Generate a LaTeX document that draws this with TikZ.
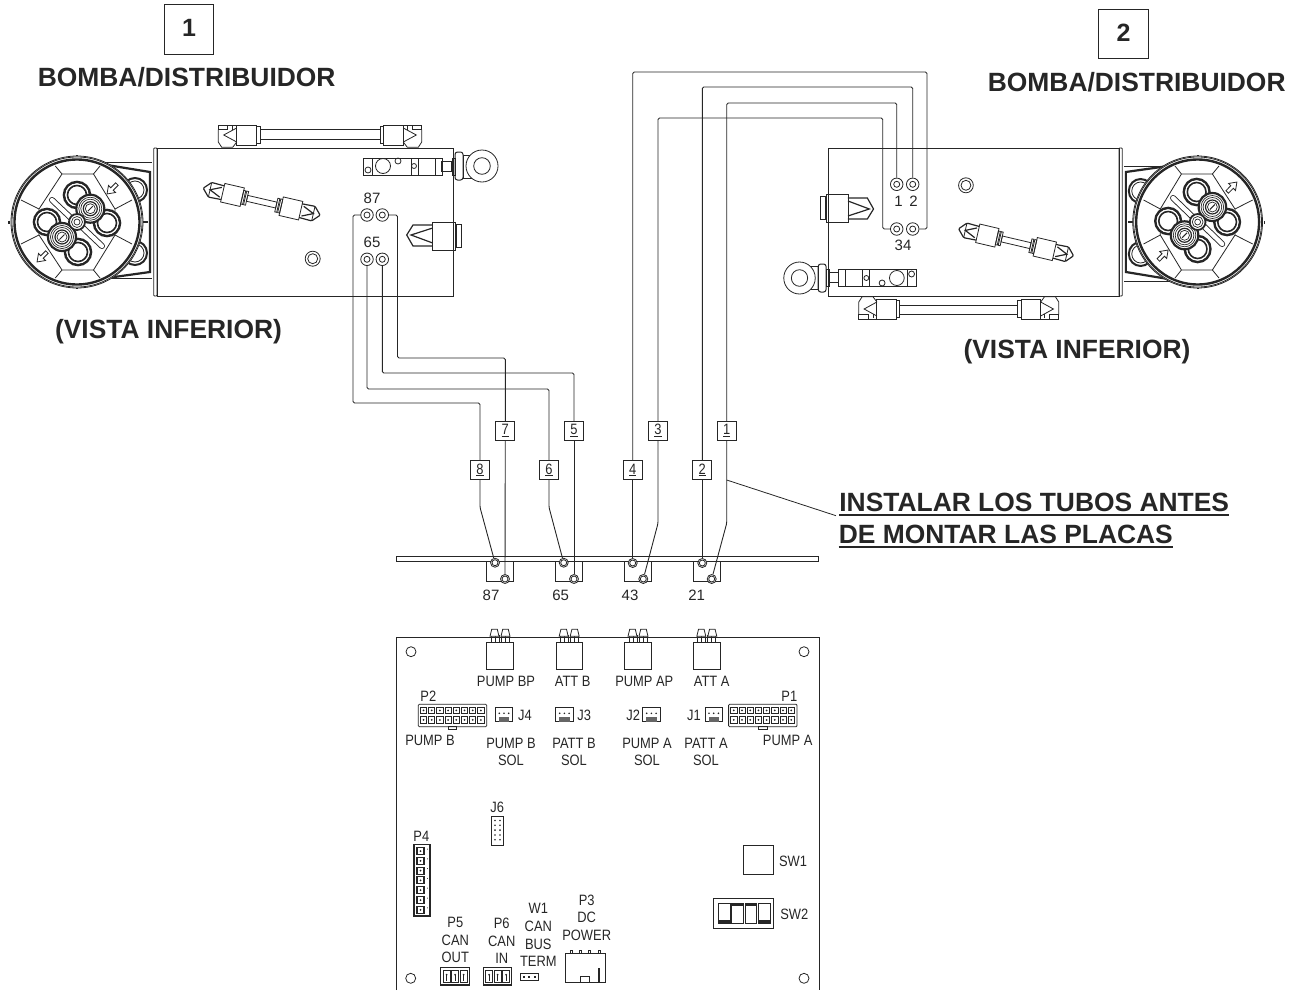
\documentclass[tikz,border=0pt]{standalone}
\usepackage{fontspec}
\setmainfont{Liberation Sans}
\newfontfamily\narrowfont[FakeStretch=.86]{Liberation Sans}
\definecolor{inkgray}{rgb}{0.15, 0.15, 0.15}
\usetikzlibrary{positioning}
\newcommand{\tagdigit}[1]{\vtop{\hbox{#1}\kern.8pt\hrule height 1.3pt}}

\begin{document}
\begin{tikzpicture}[%
    x = 1pt,
    y = -1pt,
    line width = .8pt,
    color = inkgray,
    tube/.style = {line width = .9pt, rounded corners = 1.5pt},
    port/.style = {
      circle,
      draw,
      fill = white,
      inner sep = 0pt,
      minimum size = 12.5pt,
      path picture = {\draw (path picture bounding box.center) circle (3);}},
    boardport/.style = {port, minimum size = 9pt},
    tubetag/.style = {
      draw,
      fill = white,
      inner sep = 0pt,
      minimum size = 19pt,
      font = \narrowfont\fontsize{15}{15}\selectfont},
    title/.style = {font = \bfseries\fontsize{26.4}{30}\selectfont, inner sep = 0pt},
    numbox/.style = {
      draw,
      inner sep = 0pt,
      minimum size = 49.5pt,
      font = \bfseries\fontsize{25}{25}\selectfont},
    portnum/.style = {font = \fontsize{15}{15}\selectfont, inner sep = 0pt},
    boardtext/.style = {
      font = \narrowfont\fontsize{15}{17.7}\selectfont,
      align = center,
      inner sep = 0pt},
    note/.style = {
      font = \bfseries\fontsize{26.4}{30}\selectfont,
      anchor = base west,
      inner sep = 0pt},
    noteline/.style = {line width = 1.8pt},
    % one end of the tube that runs outside the body
    tubeend/.pic = {
      \draw (0,-10) rectangle (20,10);
      \draw (20,-8.3) rectangle (23.3,8.3);
      \draw (-18.4,-10) rectangle (-9,-5.5);
      \draw (-18.4,-5.5) -- (-18.4,7) -- (-15,12.3) -- (-4,12.3) -- (0,7);
      \draw (-9,-10) -- (0,-10);
      \draw (0,-7) -- (-13,0) -- (0,7);
      \draw (-4,-9) -- (-4,-5);
    },
    % one end of the short angled tube on the body
    tipend/.pic = {
      \draw (0,-9.5) rectangle (20,9.5);
      \draw (20,-7) rectangle (22,7);
      \draw (23,-7) rectangle (25,7);
      \draw[line width = 1.2pt, rounded corners = 1pt] (0,-7) -- (-13,-7.5) -- (-20,0) -- (-13,7.5) -- (0,7);
      \draw[line width = 1.2pt] (-2,-5) -- (-13,0) -- (-2,5);
      \draw (-13,-7) -- (-13,7);
    },
    flowarrow/.pic = {
      \draw[fill = white] (-7,-1.8) -- (0,-1.8) -- (0,-5) -- (7,0) -- (0,5) -- (0,1.8) -- (-7,1.8) -- cycle;
    },
    % the pump, its origin at the centre of the body
    pumpunit/.pic = {
      \draw[rounded corners = .8] (-151.3,-74) rectangle (-148,74);
      \draw (-148,-74) rectangle (148,74);
      % tube on the long side
      \draw (-45,-92.7) rectangle (75,-83);
      \pic[transform shape] at (-68.3,-87) {tubeend};
      \pic[transform shape, xscale = -1] at (98.3,-87) {tubeend};
      % valve and ring
      \draw (58,-64) rectangle (130,-47);
      \draw (67,-64) -- (67,-47) (106,-64) -- (106,-47) (113,-64) -- (113,-47);
      \draw (130,-64) rectangle (137,-47);
      \draw[line width = 1.3pt] (137,-60.5) rectangle (147,-50.5);
      \draw (147,-64) rectangle (150,-47);
      \draw (78,-56) circle (7.5);
      \draw (93,-61) circle (3);
      \draw (63,-52) circle (3);
      \draw (109,-56) circle (2.5);
      \draw (158,-67) rectangle (166,-44);
      \draw[rounded corners = 2.5, line width = 1pt] (150,-70) rectangle (158,-42);
      \draw[fill = white] (177,-56) circle (16);
      \draw (177,-56) circle (8.3);
      % side fitting
      \draw (127.7,0) rectangle (150,28);
      \draw (151,2.5) rectangle (156,25.5);
      \draw[line width = 1.2pt] (127.7,3) -- (108,3) -- (101.7,13) -- (108,24) -- (127.7,24);
      \draw[line width = 1.2pt] (127.7,6) -- (106,13) -- (127.7,21);
      % short tube
      \begin{scope}[shift = {(-43.3,-20.3)}, rotate = -13]
        \draw (-15,-3) rectangle (15,3);
        \pic[transform shape] at (-40,0) {tipend};
        \pic[transform shape, xscale = -1] at (40,0) {tipend};
      \end{scope}
      \draw (7.7,36.7) circle (7.5);
      \draw (7.7,36.7) circle (5);
      % head
      \begin{scope}[shift = {(-228,0)}]
        \draw (26,-59.3) -- (75,-59.3) (26,56) -- (75,56);
        \foreach \ly in {-32,31} {
          \draw[line width = 2pt, fill = white] (58,\ly) circle (12);
          \draw (58,\ly) circle (9);
        }
        \draw[line width = 2.2pt] (30,-57) -- (73,-50) -- (73,50) -- (30,56);
        \draw[line width = 2.2pt] (65,0) -- (71,0);
        \draw[fill = white] (0,0) circle (66);
        \draw (0,0) circle (65);
        \draw[line width = 2.4pt] (0,0) circle (62.5);
        \draw[line width = 1.5pt] (-68,-1.5) -- (-68,1.5) (-1,-66.5) -- (1,-66.5) (-1,66.5) -- (1,66.5);
        \draw (-15,-48) -- (16.5,-48) -- (38,-13) -- (38,13) -- (16.5,48) -- (-15,48) -- (-38,13) -- (-38,-13) -- cycle;
        \draw (-15,-48) -- (-21.7,-56) (16.5,-48) -- (23,-56)
          (38,-13) -- (55,-22) (38,13) -- (55,22)
          (16.5,48) -- (23,56) (-15,48) -- (-21.7,56)
          (-38,13) -- (-56,22) (-38,-13) -- (-56,-22);
        \pic[transform shape, rotate = 225] at (35,-33) {flowarrow};
        \pic[transform shape, rotate = 225] at (-35,35) {flowarrow};
        % lobes and rollers
        \foreach \lx/\ly in {0/-27, -30/0, 30/1, 1/30}
          \draw[line width = 2.6pt] (\lx,\ly) circle (13);
        \foreach \lx/\ly in {0/-27, -30/0, 30/1, 1/30}
          \fill[white] (\lx,\ly) circle (11.7);
        \foreach \lx/\ly in {0/-27, -30/0, 30/1, 1/30}
          \draw[line width = 1.6pt] (\lx,\ly) circle (9.5);
        \foreach \bx/\by/\cx/\cy in {-25/-22/-6/-4, 6/6/25/24} {
          \draw[line width = 6pt, line cap = round] (\bx,\by) -- (\cx,\cy);
          \draw[line width = 4.2pt, white, line cap = round] (\bx,\by) -- (\cx,\cy);
        }
        \foreach \rx/\ry in {13.3/-13.3, -15/15} {
          \draw[line width = 2.2pt, fill = white] (\rx,\ry) circle (14);
          \draw[line width = .7pt] (\rx,\ry) circle (11.5);
          \draw[line width = .7pt] (\rx,\ry) circle (9.5);
          \draw[line width = 1.2pt] (\rx,\ry) circle (7);
          \draw[line width = .7pt] (\rx,\ry) circle (5);
          \draw[line width = 1pt] (\rx,\ry) ++(-2.5,2.5) -- ++(5,-5);
        }
        \draw[line width = 1.8pt, fill = white] (0,0) circle (8);
        \draw[line width = .7pt] (0,0) circle (5.5);
        \draw[line width = .7pt] (0,0) circle (3);
      \end{scope}
    },
    relayplug/.pic = {
      \draw[fill = white] (-13.3,0) rectangle (13.3,27);
      \draw (-9,0) -- (-9,-7) (-5,0) -- (-5,-7) (-1,0) -- (-1,-7)
        (1,0) -- (1,-7) (5,0) -- (5,-7) (9,0) -- (9,-7);
      \foreach \hx in {-5.5,5.5}
        \draw[fill = white] (\hx-4.5,-6) -- (\hx-2.8,-13) -- (\hx+2.8,-13) -- (\hx+4.5,-6) -- cycle;
    },
    pinheader/.pic = {
      \draw[rounded corners = 1] (0,0) rectangle (68.4,22.4);
      \draw (30,22.4) rectangle (38.4,25);
      \foreach \col in {0,...,7} {
        \draw (2.1+8.2*\col,3) rectangle ++(6.2,6.2);
        \draw (2.1+8.2*\col,12.5) rectangle ++(6.2,6.2);
        \fill (5.2+8.2*\col,6.1) circle (1);
        \fill (5.2+8.2*\col,15.6) circle (1);
      }
    },
    solplug/.pic = {
      \draw (0,0) rectangle (17.4,14.4);
      \fill[black!60] (3.5,9.5) rectangle (14,14.4);
      \foreach \pin in {4,8.7,13.4}
        \fill (\pin,6) circle (.9);
    },
    canplug/.pic = {
      \draw[line width = 1.2pt] (0,0) rectangle (28.6,17.3);
      \foreach \pin in {2.5,11,19.5} {
        \draw (\pin,2.5) rectangle ++(7,12);
        \fill (\pin+3.5,7) circle (1);
        \draw (\pin+3.5,7) -- ++(0,6);
      }
    }
  ]

\useasboundingbox (0,0) rectangle (1301,993);

% pumps
\pic at (305,222) {pumpunit};
\pic[rotate = 180, xscale = .983] at (973.5,222) {pumpunit};

\node[numbox] (box1) at (189,29.5) {\raisebox{3pt}{1}};
\node[numbox] (box2) at (1123.5,33.8) {\raisebox{3pt}{2}};
\node[title] (pump1title) at (186.7,76.7) {BOMBA/DISTRIBUIDOR};
\node[title] (pump2title) at (1136.7,81.7) {BOMBA/DISTRIBUIDOR};
\node[title] (view1) at (168.5,332) {(VISTA INFERIOR)};
\node[title] (view2) at (1077,352) {(VISTA INFERIOR)};

% ports on the pumps
\node[port] (p8) at (367,215) {};
\node[port] (p7) at (382.3,215) {};
\node[port] (p6) at (367,259.3) {};
\node[port] (p5) at (382.3,259.3) {};
\node[port] (p1) at (896.7,184.3) {};
\node[port] (p2) at (912.7,184.3) {};
\node[port] (p3) at (896.7,229) {};
\node[port] (p4) at (912.7,229) {};

\node[portnum] (lab87) at (372,198.5) {87};
\node[portnum] (lab65) at (372,242.7) {65};
\node[portnum] (lab1) at (898.5,201) {1};
\node[portnum] (lab2) at (913.5,201) {2};
\node[portnum] (lab34) at (903,245.7) {34};

% strip with the fittings
\draw (396,556.3) rectangle (818.7,561.3);
\foreach \blk in {486.7,555.7,624.3,693.3}
  \draw (\blk,561.3) -- (\blk,581.7) -- (\blk+27,581.7) -- (\blk+27,561.3);

\node[boardport] (b8) at (495,562.7) {};
\node[boardport] (b7) at (505,579) {};
\node[boardport] (b6) at (563.7,562.7) {};
\node[boardport] (b5) at (574,579) {};
\node[boardport] (b4) at (632.7,563) {};
\node[boardport] (b3) at (643.3,579) {};
\node[boardport] (b2) at (702.3,563) {};
\node[boardport] (b1) at (711.7,579) {};

\node[portnum] (lab87b) at (491,595) {87};
\node[portnum] (lab65b) at (560.7,595) {65};
\node[portnum] (lab43b) at (630,595) {43};
\node[portnum] (lab21b) at (696.7,595) {21};

\node[tubetag] (tag8) at (480,470) {\tagdigit{8}};
\node[tubetag] (tag7) at (505.3,430.7) {\tagdigit{7}};
\node[tubetag] (tag6) at (549,470) {\tagdigit{6}};
\node[tubetag] (tag5) at (574,430.7) {\tagdigit{5}};
\node[tubetag] (tag4) at (632.7,470) {\tagdigit{4}};
\node[tubetag] (tag3) at (658,430.7) {\tagdigit{3}};
\node[tubetag] (tag2) at (702.3,470) {\tagdigit{2}};
\node[tubetag] (tag1) at (726.7,430.7) {\tagdigit{1}};

% tubes
\draw[tube] (p8) -- (353,215) -- (353,403) -- (480,403) -- (tag8);
\draw[tube] (tag8) -- (480,507.3) -- (b8);
\draw[tube] (p7) -- (397.5,215) -- (397.5,358) -- (505.3,358) -- (tag7);
\draw[tube] (tag7) -- (b7);
\draw[tube] (p6) -- (367,389) -- (549,389) -- (tag6);
\draw[tube] (tag6) -- (549,507.3) -- (b6);
\draw[tube] (p5) -- (382.3,373) -- (574,373) -- (tag5);
\draw[tube] (tag5) -- (b5);
\draw[tube] (p4) -- (927,229) -- (927,72) -- (632.7,72) -- (tag4);
\draw[tube] (tag4) -- (b4);
\draw[tube] (p3) -- (882.7,229) -- (882.7,118) -- (658,118) -- (tag3);
\draw[tube] (tag3) -- (658,523.3) -- (b3);
\draw[tube] (p2) -- (912.7,87) -- (702.3,87) -- (tag2);
\draw[tube] (tag2) -- (b2);
\draw[tube] (p1) -- (896.7,103) -- (726.7,103) -- (tag1);
\draw[tube] (tag1) -- (726.7,523.3) -- (b1);

% note
\node[note] (note1) at (839,511.7) {INSTALAR LOS TUBOS ANTES};
\node[note] (note2) at (838.5,543.3) {DE MONTAR LAS PLACAS};
\draw[noteline] ([yshift = -3pt]note1.base west) -- ([yshift = -3pt]note1.base east);
\draw[noteline] ([yshift = -3.5pt]note2.base west) -- ([yshift = -3.5pt]note2.base east);
\coordinate (leadstart) at (726.7,480);
\draw (leadstart) -- ([xshift = -3pt, yshift = -4pt]note1.base west);

% circuit board
\draw (396,990) -- (396,637.7) -- (819,637.7) -- (819,990);
\foreach \hx/\hy in {411/651.7, 804/651.7, 410.7/978.3, 804/978.3}
  \draw (\hx,\hy) circle (5);

\foreach \px in {500,569.2,638,706.8}
  \pic at (\px,642.3) {relayplug};
\node[boardtext] (pumpbp) at (506,681) {PUMP BP};
\node[boardtext] (attb) at (572.7,681) {ATT B};
\node[boardtext] (pumpap) at (644.3,681) {PUMP AP};
\node[boardtext] (atta) at (711.7,681) {ATT A};

\pic at (418.3,704.3) {pinheader};
\pic at (728.6,704.3) {pinheader};
\node[boardtext] (labp2) at (428.3,696) {P2};
\node[boardtext] (labp1) at (789.3,696.7) {P1};
\node[boardtext] (pumpb) at (430,740) {PUMP B};
\node[boardtext] (pumpa) at (787.7,740) {PUMP A};

\foreach \jx in {495.3,555.7,642.7,705}
  \pic at (\jx,707.3) {solplug};
\node[boardtext] (labj4) at (525,715.3) {J4};
\node[boardtext] (labj3) at (584.3,715.3) {J3};
\node[boardtext] (labj2) at (633.3,715.3) {J2};
\node[boardtext] (labj1) at (694,715.3) {J1};
\node[boardtext] (solb) at (511,752) {PUMP B\\SOL};
\node[boardtext] (pattb) at (574,752) {PATT B\\SOL};
\node[boardtext] (sola) at (647,752) {PUMP A\\SOL};
\node[boardtext] (patta) at (706,752) {PATT A\\SOL};

% J6
\node[boardtext] (labj6) at (497.3,807.7) {J6};
\draw (491.7,816) rectangle (503.3,845);
\foreach \row in {0,...,4} {
  \fill (495,820.5+4.8*\row) circle (.9);
  \fill (500,820.5+4.8*\row) circle (.9);
}

% P4
\node[boardtext] (labp4) at (421.3,836) {P4};
\draw[line width = 1.6pt] (414,844.5) rectangle (430,916);
\foreach \row in {0,...,6} {
  \draw[line width = 1.1pt] (417,847.5+9.8*\row) rectangle ++(7,7);
  \fill (420.5,851+9.8*\row) circle (1);
  \fill (427.5,849+9.8*\row) circle (.5);
}

% lower row
\node[boardtext] (labp5) at (455.3,940) {P5\\CAN\\OUT};
\node[boardtext] (labp6) at (501.7,941) {P6\\CAN\\IN};
\node[boardtext] (labw1) at (538.3,935) {W1\\CAN\\BUS\\TERM};
\node[boardtext] (labp3) at (586.7,917.7) {P3\\DC\\POWER};
\pic at (440.7,967.7) {canplug};
\pic at (483.2,967.7) {canplug};
\draw (520,973.3) rectangle (538.3,980);
\foreach \pin in {523.5,529,534.5}
  \fill (\pin-1,975.5) rectangle ++(2,2.4);
\draw (565,953.3) rectangle (605.7,982.3);
\foreach \tab in {571,580,589.5,599}
  \draw (\tab-1,953.3) rectangle ++(2,-3);
\draw (580,982.3) -- (580,976) -- (589,976) -- (589,982.3);
\draw[line width = 1.6pt] (599,968) -- (599,982);

% switches
\node[draw, inner sep = 0pt, minimum size = 29.6pt] (sw1box) at (758.5,860) {};
\node[boardtext] (labsw1) at (793,861) {SW1};
\draw (713.3,898.3) rectangle (773.3,928.3);
\foreach \swx/\swy in {718.3/920.3, 731.7/903.3, 745/903.3, 758.3/920.3} {
  \draw (\swx,903.3) rectangle ++(11.7,20);
  \fill (\swx,\swy) rectangle ++(11.7,3);
}
\node[boardtext] (labsw2) at (794.3,914.3) {SW2};

\end{tikzpicture}
\end{document}
